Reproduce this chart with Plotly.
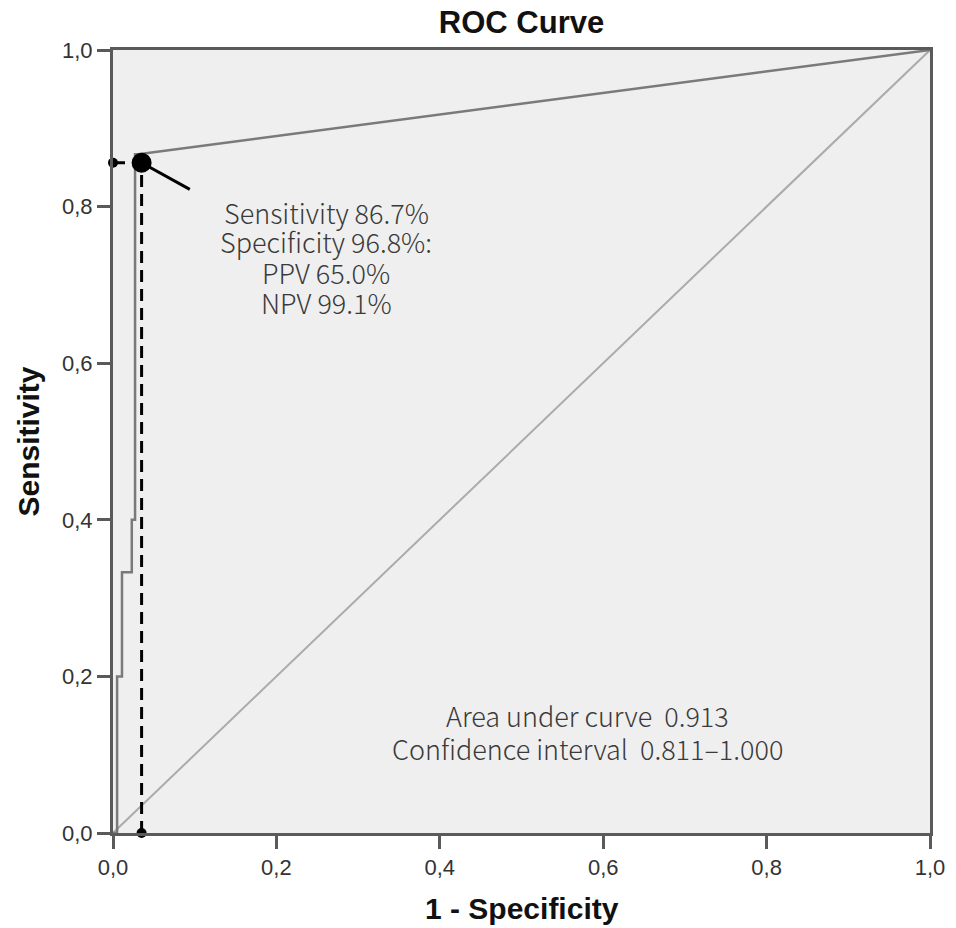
import plotly.graph_objects as go

# ROC curve (1 - specificity, sensitivity)
roc_fpr = [0.0, 0.005, 0.005, 0.011, 0.011, 0.023, 0.023, 0.027, 0.027, 0.031, 1.0]
roc_tpr = [0.0, 0.0, 0.2, 0.2, 0.333, 0.333, 0.4, 0.4, 0.867, 0.867, 1.0]

# reference diagonal
diag_x = [0.0, 1.0]
diag_y = [0.0, 1.0]

# optimal cut-off point
cut_x = 0.035
cut_y = 0.856

# pointer line from the cut-off point toward the label
pointer_x = [0.035, 0.094]
pointer_y = [0.856, 0.822]

tick_vals = [0.0, 0.2, 0.4, 0.6, 0.8, 1.0]

label_lines = ["Sensitivity 86.7%", "Specificity 96.8%:", "PPV 65.0%", "NPV 99.1%"]
label_x = 0.261
label_y = [0.793, 0.755, 0.716, 0.678]

auc_lines = ["Area under curve  0.913", "Confidence interval  0.811\u20131.000"]
auc_x = 0.581
auc_y = [0.150, 0.108]

fig = go.Figure()

fig.add_trace(go.Scatter(x=diag_x, y=diag_y, mode="lines",
                         line=dict(color="#ababab", width=2), hoverinfo="skip"))
fig.add_trace(go.Scatter(x=roc_fpr, y=roc_tpr, mode="lines",
                         line=dict(color="#7a7a7a", width=2.5), hoverinfo="skip"))
# dashed guide lines
fig.add_trace(go.Scatter(x=[cut_x, cut_x], y=[0.0, cut_y], mode="lines",
                         line=dict(color="black", width=3, dash="12px,7px")))
fig.add_trace(go.Scatter(x=[0.0, cut_x], y=[cut_y, cut_y], mode="lines",
                         line=dict(color="black", width=3, dash="12px,7px")))
# pointer
fig.add_trace(go.Scatter(x=pointer_x, y=pointer_y, mode="lines",
                         line=dict(color="black", width=3)))
# end dots
fig.add_trace(go.Scatter(x=[cut_x, 0.0], y=[0.0, cut_y], mode="markers",
                         marker=dict(color="black", size=10), cliponaxis=False))
fig.add_trace(go.Scatter(x=[cut_x], y=[cut_y], mode="markers",
                         marker=dict(color="black", size=20), cliponaxis=False))

txt_font = dict(family="Noto Sans CJK JP, Noto Sans, sans-serif", size=27,
                color="#3a3a3a", weight=300)

for t, yy in zip(label_lines, label_y):
    fig.add_annotation(x=label_x, y=yy, xref="x", yref="y", text=t,
                       showarrow=False, font=txt_font, xanchor="center", yanchor="middle")
for t, yy in zip(auc_lines, auc_y):
    fig.add_annotation(x=auc_x, y=yy, xref="x", yref="y", text=t,
                       showarrow=False, font=txt_font, xanchor="center", yanchor="middle")

title_font = dict(family="Liberation Sans, Arial, sans-serif", size=30, color="#111111")

# axis titles
fig.add_annotation(x=0.5, y=-0.097, xref="paper", yref="paper", text="<b>1 - Specificity</b>",
                   showarrow=False, font=title_font, xanchor="center", yanchor="middle")
fig.add_annotation(x=-0.104, y=0.5, xref="paper", yref="paper", text="<b>Sensitivity</b>",
                   showarrow=False, font=title_font, xanchor="center", yanchor="middle",
                   textangle=-90)

axis_common = dict(
    range=[0, 1], showgrid=False, zeroline=False,
    showline=True, linecolor="#5a5a5a", linewidth=3, mirror=True,
    ticks="outside", ticklen=13, tickwidth=3, tickcolor="#5a5a5a",
    tickvals=tick_vals, tickformat=".1f",
    tickfont=dict(family="Liberation Sans, Arial, sans-serif", size=22, color="#333333"),
)

fig.update_layout(
    width=948, height=920,
    margin=dict(l=105, r=26, t=42, b=95),
    paper_bgcolor="white", plot_bgcolor="#efefef",
    showlegend=False, separators=",.",
    title=dict(text="<b>ROC Curve</b>", x=0.5, xanchor="center", xref="paper",
               y=0.985, yanchor="middle",
               font=dict(family="Liberation Sans, Arial, sans-serif", size=31, color="#111111")),
    xaxis=dict(**axis_common),
    yaxis=dict(**axis_common),
)

fig.write_html("out.html")
